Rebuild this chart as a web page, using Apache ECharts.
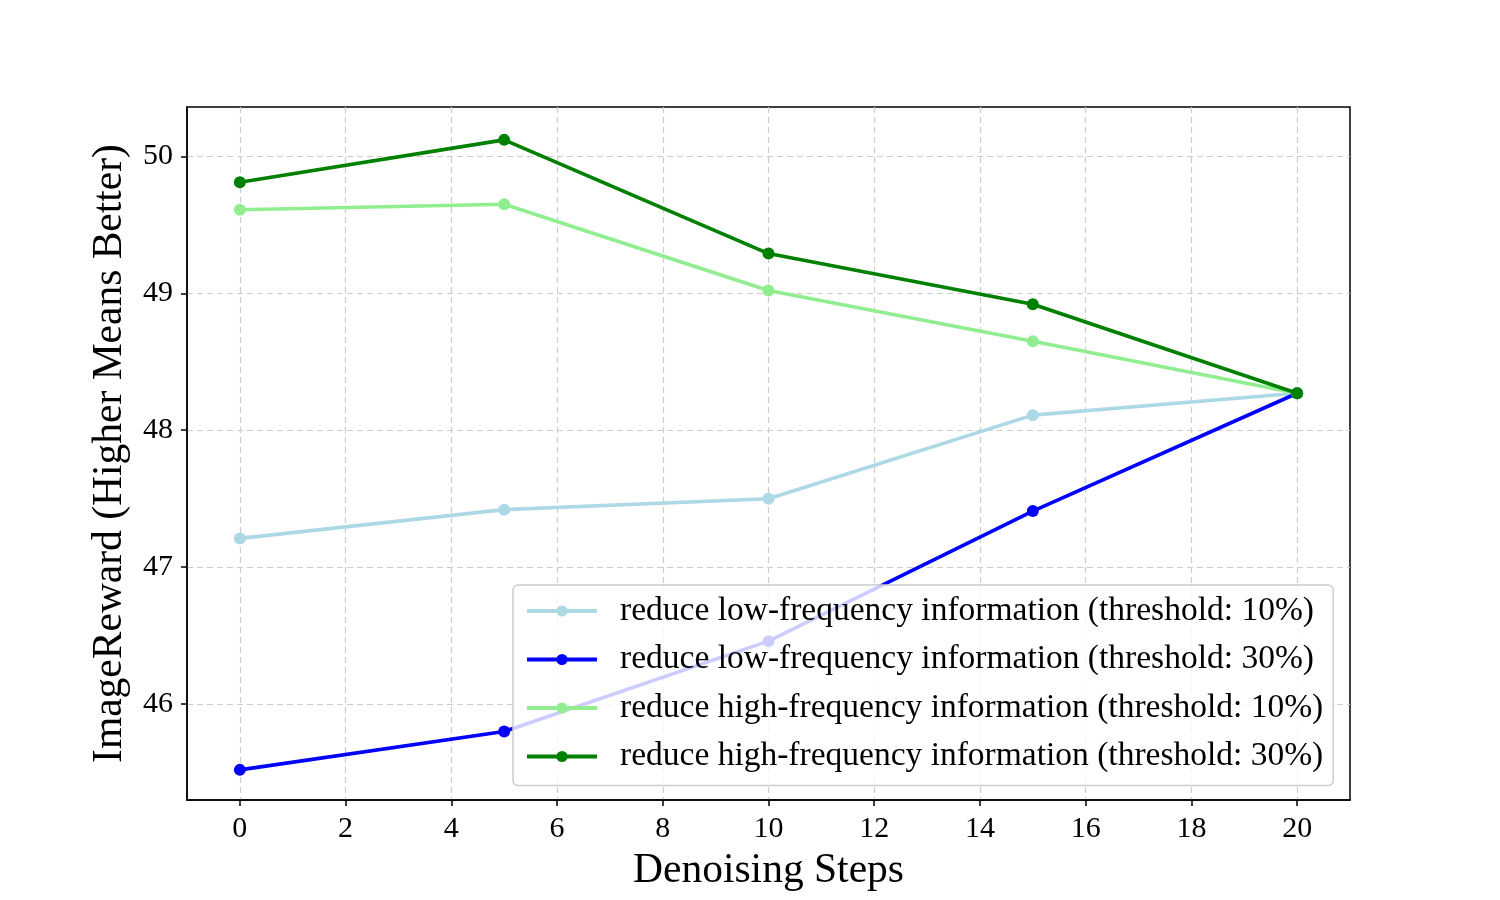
<!DOCTYPE html>
<html><head><meta charset="utf-8">
<script src="https://cdn.jsdelivr.net/npm/echarts@6/dist/echarts.min.js"></script>
<style>html,body{margin:0;padding:0;background:#fff}#c{width:1500px;height:900px}</style>
</head><body><div id="c"></div>
<script>
const steps = [0, 5, 10, 15, 20];
const lowFreq10 = [47.21, 47.42, 47.50, 48.11, 48.27];
const lowFreq30 = [45.52, 45.80, 46.46, 47.41, 48.27];
const highFreq10 = [49.61, 49.65, 49.02, 48.65, 48.27];
const highFreq30 = [49.81, 50.12, 49.29, 48.92, 48.27];
const xTicks = [0, 2, 4, 6, 8, 10, 12, 14, 16, 18, 20];
const yTicks = [46, 47, 48, 49, 50];
const names = [
  'reduce low-frequency information (threshold: 10%)',
  'reduce low-frequency information (threshold: 30%)',
  'reduce high-frequency information (threshold: 10%)',
  'reduce high-frequency information (threshold: 30%)'
];
const colors = ['#ADD8E6', '#0000FF', '#90EE90', '#008000'];
const seriesData = [lowFreq10, lowFreq30, highFreq10, highFreq30];
const font = 'Liberation Serif, Times New Roman, serif';

const chart = echarts.init(document.getElementById('c'));
chart.setOption({
  animation: false,
  textStyle: { fontFamily: font },
  grid: { left: 187, right: 150, top: 107, bottom: 100, show: true, borderColor: '#000', borderWidth: 1.5, backgroundColor: 'transparent' },
  legend: {
    orient: 'vertical', left: 513, top: 585,
    width: 820, height: 198,
    padding: [9, 10, 12, 12],
    itemGap: 14.5, itemWidth: 70, itemHeight: 14,
    backgroundColor: 'rgba(255,255,255,0.8)',
    borderColor: '#cccccc', borderWidth: 1.5, borderRadius: 5,
    lineStyle: { width: 4 },
    textStyle: { fontFamily: font, fontSize: 33.5, color: '#000', padding: [0, 0, 0, 18] },
    data: names
  },
  xAxis: {
    type: 'value', min: -1, max: 21,
    name: 'Denoising Steps', nameLocation: 'middle', nameGap: 50,
    nameTextStyle: { fontFamily: font, fontSize: 41.5, color: '#000' },
    axisLine: { show: true, onZero: false, lineStyle: { color: '#000', width: 1.5 } },
    axisTick: { show: true, length: 6, customValues: xTicks, lineStyle: { color: '#000', width: 1.5 } },
    axisLabel: { customValues: xTicks, fontFamily: font, fontSize: 30, color: '#000', margin: 14 },
    splitLine: { show: true, lineStyle: { color: '#cccccc', type: [6, 4], width: 1.2 } }
  },
  yAxis: {
    type: 'value', min: 45.3, max: 50.36,
    name: 'ImageReward (Higher Means Better)', nameLocation: 'middle', nameGap: 56,
    nameTextStyle: { fontFamily: font, fontSize: 41.5, color: '#000' },
    axisLine: { show: true, onZero: false, lineStyle: { color: '#000', width: 1.5 } },
    axisTick: { show: true, length: 6, customValues: yTicks, lineStyle: { color: '#000', width: 1.5 } },
    axisLabel: { customValues: yTicks, fontFamily: font, fontSize: 30, color: '#000', margin: 14 },
    splitLine: { show: true, lineStyle: { color: '#cccccc', type: [6, 4], width: 1.2 } }
  },
  series: names.map((n, i) => ({
    name: n, type: 'line',
    data: steps.map((s, j) => [s, seriesData[i][j]]),
    symbol: 'circle', symbolSize: 12,
    itemStyle: { color: colors[i] },
    lineStyle: { color: colors[i], width: 3.6 },
    z: 2 + i
  }))
});
</script></body></html>
